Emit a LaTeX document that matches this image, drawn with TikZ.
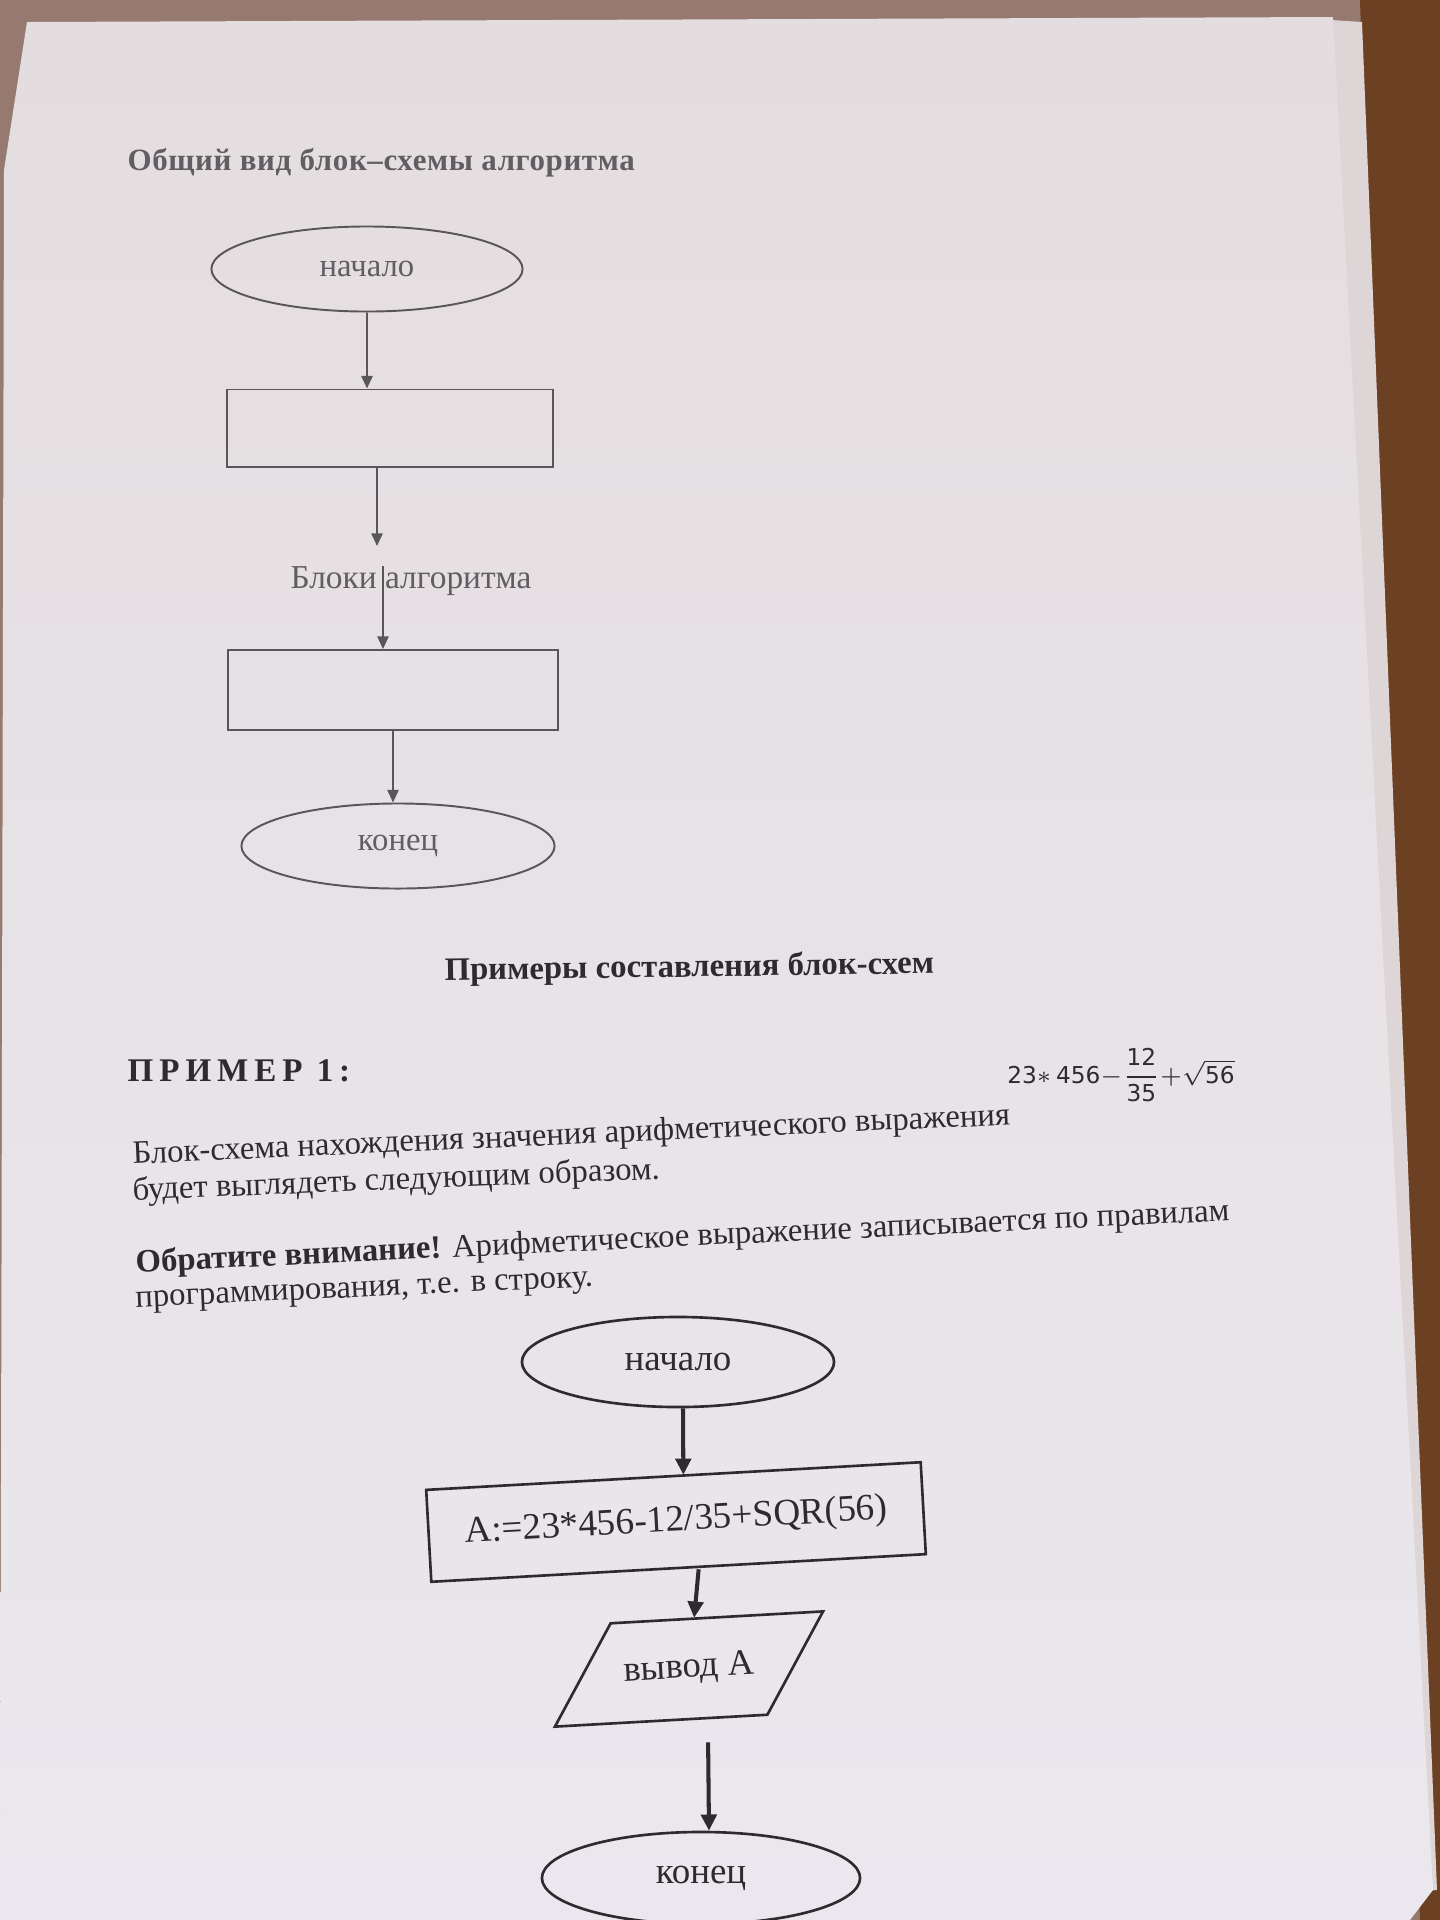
\documentclass[tikz,border=0pt]{standalone}
\usepackage{fontspec}
\setmainfont{Liberation Serif}
\setsansfont{DejaVu Sans}
\newfontfamily\spacedfont[LetterSpace = 18]{Liberation Serif}
\newfontfamily\titlefont[LetterSpace = 2]{Liberation Serif}
\usetikzlibrary{shapes.geometric, arrows.meta}

\definecolor{paperA}{RGB}{228,221,223}
\definecolor{paperB}{RGB}{234,232,238}
\definecolor{sheet}{RGB}{222,213,214}
\definecolor{floor}{RGB}{150,122,112}
\definecolor{wood}{RGB}{108,64,34}
\definecolor{gline}{RGB}{88,86,90}
\definecolor{gtext}{RGB}{96,94,98}
\definecolor{ink}{RGB}{46,42,46}

\begin{document}
\begin{tikzpicture}[x = 0.01cm, y = -0.01cm,
    term/.style = {shape = ellipse, draw = gline, line width = 0.55pt, text = gtext,
        font = \fontsize{9.3}{11}\selectfont},
    blk/.style = {shape = rectangle, draw = gline, line width = 0.55pt},
    arr/.style = {draw = gline, line width = 0.55pt, -{Triangle[length = 3.6pt, width = 3.2pt]}},
    term2/.style = {shape = ellipse, draw = ink, line width = 0.75pt, text = ink,
        font = \fontsize{10.5}{12}\selectfont},
    calcbox/.style = {shape = rectangle, draw = ink, line width = 0.75pt, text = ink,
        font = \fontsize{10.6}{12}\selectfont},
    io/.style = {shape = trapezium, trapezium left angle = 56, trapezium right angle = 124,
        trapezium stretches body = true, inner xsep = 2pt, inner ysep = 8.5pt,
        draw = ink, line width = 0.75pt, text = ink, font = \fontsize{10.4}{12}\selectfont},
    arr2/.style = {draw = ink, line width = 1.15pt, -{Triangle[length = 4.6pt, width = 4.4pt]}},
    line/.style = {anchor = west, inner sep = 0pt, text = ink, font = \fontsize{9.3}{11}\selectfont}]

\useasboundingbox (0,0) rectangle (1440,1920);
\fill[floor] (0,0) rectangle (1440,1920);
\fill[wood] (1360,0) -- (1440,0) -- (1440,1920) -- (1420,1920) -- cycle;
\fill[sheet] (1300,18) -- (1362,22) -- (1437,1890) -- (1300,1900) -- cycle;
\shade[top color = paperA, bottom color = paperB]
    (27,22) -- (1333,17) -- (1433,1890) -- (1410,1920) -- (0,1920) -- (4,170) -- cycle;

\node[anchor = west, inner sep = 0pt, text = gtext, font = \titlefont\bfseries\fontsize{8.8}{11}\selectfont]
    (title) at (127,163) {Общий вид блок–схемы алгоритма};

\node[term, minimum width = 3.11cm, minimum height = 0.85cm] (top1) at (367,269) {начало};
\node[blk, minimum width = 3.26cm, minimum height = 0.77cm] (blk1) at (390,428) {};
\coordinate (gap) at (377,546);
\node[text = gtext, inner sep = 0pt, font = \fontsize{9.5}{11}\selectfont] (lbl) at (411,581) {Блоки алгоритма};
\node[blk, minimum width = 3.29cm, minimum height = 0.80cm] (blk2) at (393,690) {};
\node[term, minimum width = 3.13cm, minimum height = 0.85cm] (end1) at (398,846) {конец};

\draw[arr] (top1.south) -- (top1.south |- blk1.north);
\draw[arr] ([xshift = -0.13cm]blk1.south) -- (gap);
\draw[arr] ([xshift = -0.28cm]lbl.north) -- ([xshift = -0.28cm]lbl.north |- blk2.north);
\draw[arr] (blk2.south) -- (blk2.south |- end1.north);

\node[anchor = west, inner sep = 0pt, text = ink, rotate = 0.8, font = \bfseries\fontsize{9.3}{11}\selectfont]
    (head) at (444,972) {Примеры составления блок-схем};
\node[anchor = west, inner sep = 0pt, text = ink, font = \spacedfont\bfseries\fontsize{9.4}{11}\selectfont]
    (ex1) at (127,1071) {ПРИМЕР 1:};
\node[text = ink, font = \fontsize{6.6}{8}\selectfont] (expr) at (1121,1075)
    {$\displaystyle\mathsf{23}{\ast}\,\mathsf{456}{-}\frac{\mathsf{12}}{\mathsf{35}}{+}{\textstyle\sqrt{\mathsf{56}}}$};

\node[line, rotate = 2.55] (l1) at (132,1156) {Блок-схема нахождения значения арифметического выражения};
\node[line, rotate = 2.3] (l2) at (132,1192) {будет выглядеть следующим образом.};
\node[line, rotate = 2.7] (l3) at (135,1264) {\textbf{Обратите внимание!} Арифметическое выражение записывается по правилам};
\node[line, rotate = 2.6] (l4) at (135,1303) {программирования, т.е. в строку.};

\node[term2, minimum width = 3.12cm, minimum height = 0.9cm] (st2) at (678,1362) {начало};
\node[calcbox, rotate = 3.2, minimum width = 4.95cm, minimum height = 0.92cm] (calc) at (676,1522)
    {A:=23*456-12/35+SQR(56)};
\node[io, rotate = 3.2, minimum width = 2.74cm, minimum height = 1.0cm] (out) at (689,1669) {вывод A};
\node[term2, minimum width = 3.18cm, minimum height = 0.92cm] (fin) at (701,1878) {конец};

\draw[arr2] ([xshift = 0.05cm]st2.south) -- ([xshift = 0.1cm]calc.north);
\draw[arr2] ([xshift = 0.2cm]calc.south) -- ([xshift = 0.08cm]out.north);
\draw[arr2, shorten <= 0.22cm] ([xshift = 0.16cm]out.south) -- ([xshift = 0.08cm]fin.north);
\end{tikzpicture}
\end{document}
